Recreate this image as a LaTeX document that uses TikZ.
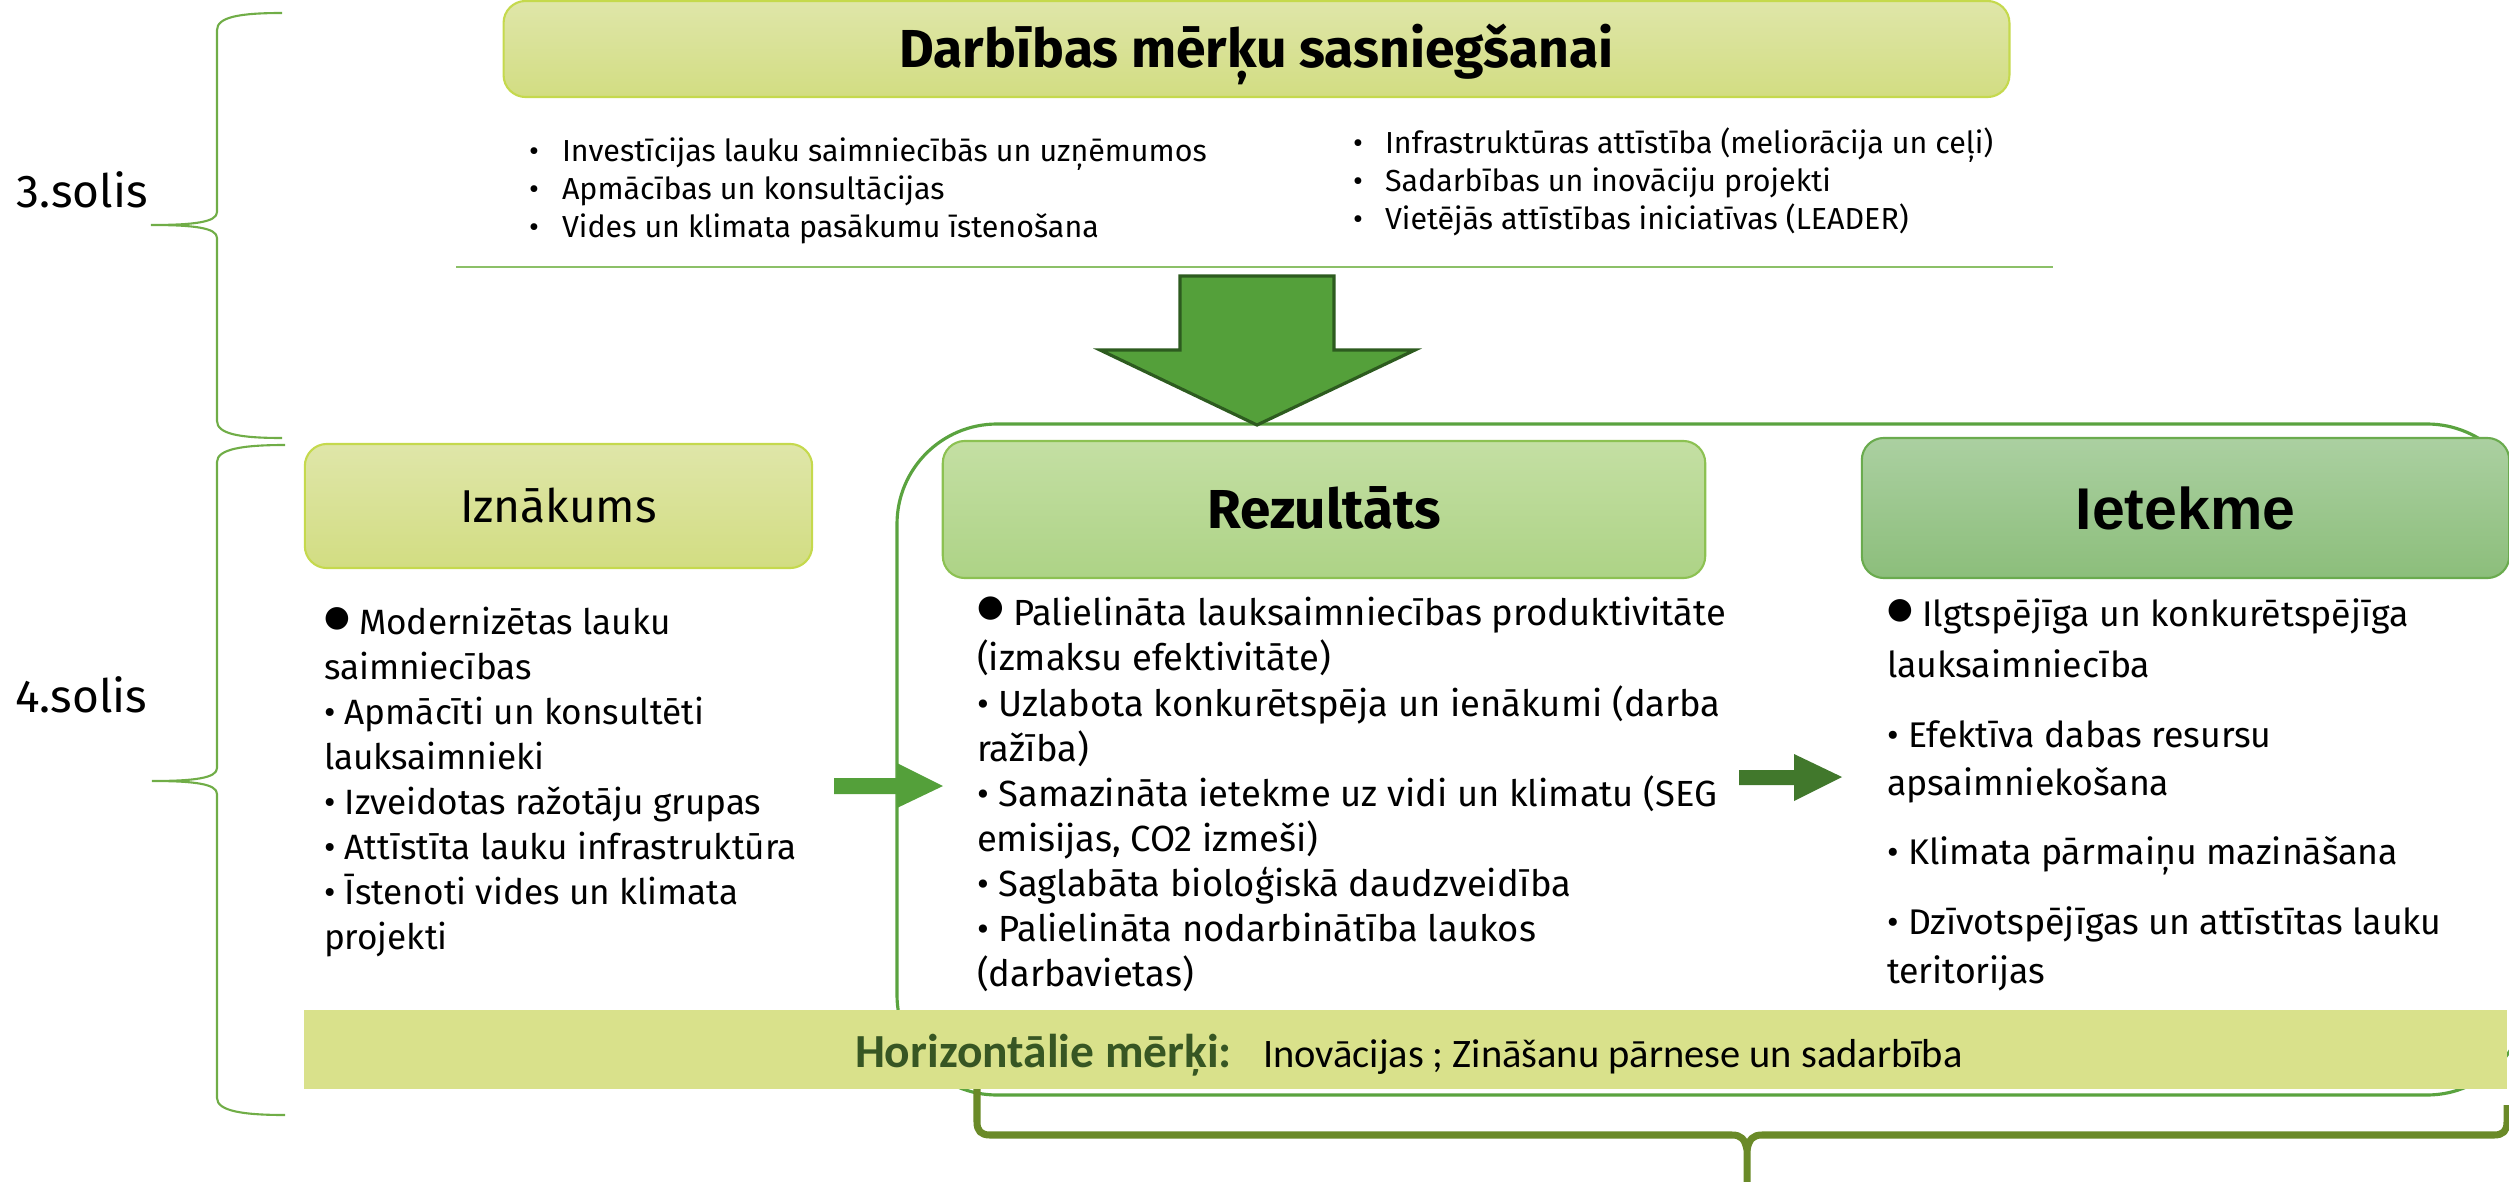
\documentclass[tikz,border=0pt]{standalone}
\usepackage{fontspec}
\setmainfont{Fira Sans}
\newfontfamily\stepfont{Fira Sans}
\newfontfamily\titlefont{Fira Sans}
\newfontfamily\topfont{Fira Sans}
\newfontfamily\izfont{Fira Sans}
\newfontfamily\rezfont{Fira Sans}
\newfontfamily\ietfont{Fira Sans}
\newfontfamily\ietheadfont{Liberation Sans}
\newfontfamily\calfont{Carlito}
\newfontfamily\symfont{DejaVu Sans}

\newcommand{\fsStep}{\stepfont\fontsize{13.1pt}{15pt}\selectfont}
\newcommand{\fsTitle}{\titlefont\bfseries\fontsize{15.2pt}{17pt}\selectfont}
\newcommand{\fsTop}{\topfont\fontsize{8.65pt}{11pt}\selectfont}
\newcommand{\fsIzHead}{\izfont\fontsize{13.1pt}{15pt}\selectfont}
\newcommand{\fsIz}{\izfont\fontsize{10pt}{12pt}\selectfont}
\newcommand{\fsRezHead}{\rezfont\bfseries\fontsize{15.6pt}{17pt}\selectfont}
\newcommand{\fsRez}{\rezfont\fontsize{10.35pt}{12pt}\selectfont}
\newcommand{\fsIetHead}{\ietheadfont\bfseries\fontsize{16.75pt}{18pt}\selectfont}
\newcommand{\fsIet}{\ietfont\fontsize{10.15pt}{12pt}\selectfont}
\newcommand{\fsHor}{\calfont\bfseries\fontsize{13.5pt}{15pt}\selectfont}
\newcommand{\fsInov}{\calfont\fontsize{11.5pt}{13pt}\selectfont}
\newcommand{\bigbul}[1]{\raisebox{0.22em}{\symfont\fontsize{#1}{#1}\selectfont ●}}

\definecolor{titletop}{HTML}{DFE6A9}
\definecolor{titlebot}{HTML}{D2DD82}
\definecolor{titleborder}{HTML}{C5D94D}
\definecolor{reztop}{HTML}{C4DFA3}
\definecolor{rezbot}{HTML}{ADD386}
\definecolor{rezborder}{HTML}{8CC152}
\definecolor{iettop}{HTML}{ABD0A1}
\definecolor{ietbot}{HTML}{8CBE7B}
\definecolor{ietborder}{HTML}{6AAB4E}
\definecolor{bandfill}{HTML}{D9E18B}
\definecolor{linegreen}{HTML}{70AD47}
\definecolor{rulegreen}{HTML}{8CC068}
\definecolor{groupgreen}{HTML}{5AA33F}
\definecolor{arrowgreen}{HTML}{54A03A}
\definecolor{arrowedge}{HTML}{2D5B1F}
\definecolor{darkarrow}{HTML}{41782C}
\definecolor{olivebrace}{HTML}{6A8A28}
\definecolor{hgreen}{HTML}{375623}

\begin{document}
\begin{tikzpicture}[x=0.01cm,y=-0.01cm,
  lbl/.style={anchor=base west, inner sep=0pt, outer sep=0pt},
  thinbrace/.style={draw=linegreen, line width=0.6pt},
  rulestyle/.style={draw=rulegreen, line width=0.6pt},
  grouprect/.style={draw=groupgreen, line width=0.9pt, rounded corners=1cm},
  bigarrow/.style={fill=arrowgreen, draw=arrowedge, line width=0.9pt, line join=miter},
  headbox/.style={rounded corners=0.22cm, line width=0.6pt, inner sep=0pt, text depth=0pt},
  titlebox/.style={headbox, top color=titletop, bottom color=titlebot, draw=titleborder},
  rezbox/.style={headbox, top color=reztop, bottom color=rezbot, draw=rezborder},
  ietbox/.style={headbox, top color=iettop, bottom color=ietbot, draw=ietborder},
  bandbox/.style={fill=bandfill, inner sep=0pt},
  olive/.style={draw=olivebrace, line width=2pt, line join=round},
]
\useasboundingbox (0,0) rectangle (2509,1182);

% step labels
\node[lbl, font=\fsStep] (s3) at (17,208) {3.solis};
\node[lbl, font=\fsStep] (s4) at (15,712) {4.solis};

% thin braces
\draw[thinbrace] (282,13) .. controls (240,13) and (217,17) .. (217,30) -- (217,212)
  .. controls (217,222) and (195,225) .. (151,225)
  .. controls (195,225) and (217,228) .. (217,238) -- (217,421)
  .. controls (217,434) and (240,438) .. (282,438);
\draw[thinbrace] (285,445) .. controls (243,445) and (217,449) .. (217,462) -- (217,768)
  .. controls (217,778) and (195,781) .. (152,781)
  .. controls (195,781) and (217,784) .. (217,794) -- (217,1098)
  .. controls (217,1111) and (243,1115) .. (285,1115);

% title box
\node[titlebox, minimum width=15.05cm, minimum height=0.96cm, font=\fsTitle, text height=10.4pt] (title) at (1256.5,49) {Darbības mērķu sasniegšanai};

% top bullets
\node[lbl, font=\fsTop] (t1) at (529,162) {\makebox[0.33cm][l]{•}Investīcijas lauku saimniecībās un uzņēmumos};
\node[lbl, font=\fsTop] (t2) at (529,200) {\makebox[0.33cm][l]{•}Apmācības un konsultācijas};
\node[lbl, font=\fsTop] (t3) at (529,238) {\makebox[0.33cm][l]{•}Vides un klimata pasākumu īstenošana};
\node[lbl, font=\fsTop] (t4) at (1353,153) {\makebox[0.32cm][l]{•}Infrastruktūras attīstība (meliorācija un ceļi)};
\node[lbl, font=\fsTop] (t5) at (1353,192) {\makebox[0.32cm][l]{•}Sadarbības un inovāciju projekti};
\node[lbl, font=\fsTop] (t6) at (1353,230) {\makebox[0.32cm][l]{•}Vietējās attīstības iniciatīvas (LEADER)};

\coordinate (ruleL) at (456,267);
\coordinate (ruleR) at (2053,267);
\draw[rulestyle] (ruleL) -- (ruleR);

% group frame
\draw[grouprect] (897,424) rectangle (2527,1095);

% big arrow
\draw[bigarrow] (1180,276) -- (1334,276) -- (1334,350) -- (1415,350) -- (1257,425) -- (1100,350) -- (1180,350) -- cycle;

% header boxes
\node[titlebox, minimum width=5.07cm, minimum height=1.24cm, font=\fsIzHead, text height=9.1pt] (izn) at (558.5,506) {Iznākums};
\node[rezbox, minimum width=7.62cm, minimum height=1.37cm, font=\fsRezHead, text height=10.8pt] (rez) at (1324,509.5) {Rezultāts};
\node[ietbox, minimum width=6.47cm, minimum height=1.40cm, font=\fsIetHead, text height=12pt] (iet) at (2185.5,508) {Ietekme};

% Iznakums list
\node[lbl, font=\fsIz] (iz1) at (324,634) {\bigbul{8.4pt}\ Modernizētas lauku};
\node[lbl, font=\fsIz] (iz2) at (324,679) {saimniecības};
\node[lbl, font=\fsIz] (iz3) at (324,724) {• Apmācīti un konsultēti};
\node[lbl, font=\fsIz] (iz4) at (324,769) {lauksaimnieki};
\node[lbl, font=\fsIz] (iz5) at (324,814) {• Izveidotas ražotāju grupas};
\node[lbl, font=\fsIz] (iz6) at (324,859) {• Attīstīta lauku infrastruktūra};
\node[lbl, font=\fsIz] (iz7) at (324,904) {• Īstenoti vides un klimata};
\node[lbl, font=\fsIz] (iz8) at (324,949) {projekti};

% Rezultats list
\node[lbl, font=\fsRez] (rz1) at (977,625) {\bigbul{8.7pt}\ Palielināta lauksaimniecības produktivitāte};
\node[lbl, font=\fsRez] (rz2) at (977,670) {(izmaksu efektivitāte)};
\node[lbl, font=\fsRez] (rz3) at (977,716) {• Uzlabota konkurētspēja un ienākumi (darba};
\node[lbl, font=\fsRez] (rz4) at (977,761) {ražība)};
\node[lbl, font=\fsRez] (rz5) at (977,806) {• Samazināta ietekme uz vidi un klimatu (SEG};
\node[lbl, font=\fsRez] (rz6) at (977,851) {emisijas, CO2 izmeši)};
\node[lbl, font=\fsRez] (rz7) at (977,896) {• Saglabāta bioloģiskā daudzveidība};
\node[lbl, font=\fsRez] (rz8) at (977,941) {• Palielināta nodarbinātība laukos};
\node[lbl, font=\fsRez] (rz9) at (977,986) {(darbavietas)};

% Ietekme list
\node[lbl, font=\fsIet] (ie1) at (1887,626) {\bigbul{8.4pt}\ Ilgtspējīga un konkurētspējīga};
\node[lbl, font=\fsIet] (ie2) at (1887,677) {lauksaimniecība};
\node[lbl, font=\fsIet] (ie3) at (1887,747) {• Efektīva dabas resursu};
\node[lbl, font=\fsIet] (ie4) at (1887,795) {apsaimniekošana};
\node[lbl, font=\fsIet] (ie5) at (1887,864) {• Klimata pārmaiņu mazināšana};
\node[lbl, font=\fsIet] (ie6) at (1887,934) {• Dzīvotspējīgas un attīstītas lauku};
\node[lbl, font=\fsIet] (ie7) at (1887,983) {teritorijas};

% bottom brace
\draw[olive] (977,1080) -- (977,1122) .. controls (977,1131) and (981,1135) .. (990,1135) -- (1732,1135)
  .. controls (1741,1135) and (1745,1139) .. (1747,1150) -- (1747,1195);
\draw[olive] (1747,1150) .. controls (1749,1139) and (1753,1135) .. (1762,1135) -- (2494,1135)
  .. controls (2503,1135) and (2507,1131) .. (2507,1122) -- (2507,1105);

% horizontal band
\node[bandbox, minimum width=22.01cm, minimum height=0.79cm] (band) at (1405.5,1049.5) {};
\node[lbl, font=\fsHor, text=hgreen] (hor) at (855,1067) {Horizontālie mērķi:};
\node[lbl, font=\fsInov] (inov) at (1263,1067) {Inovācijas ; Zināšanu pārnese un sadarbība};

% small arrows
\fill[arrowgreen] (834,778) -- (897,778) -- (897,763) -- (943,786) -- (897,808) -- (897,794) -- (834,794) -- cycle;
\fill[darkarrow] (1739,770) -- (1794,770) -- (1794,754) -- (1842,777) -- (1794,801) -- (1794,785) -- (1739,785) -- cycle;
\end{tikzpicture}
\end{document}
